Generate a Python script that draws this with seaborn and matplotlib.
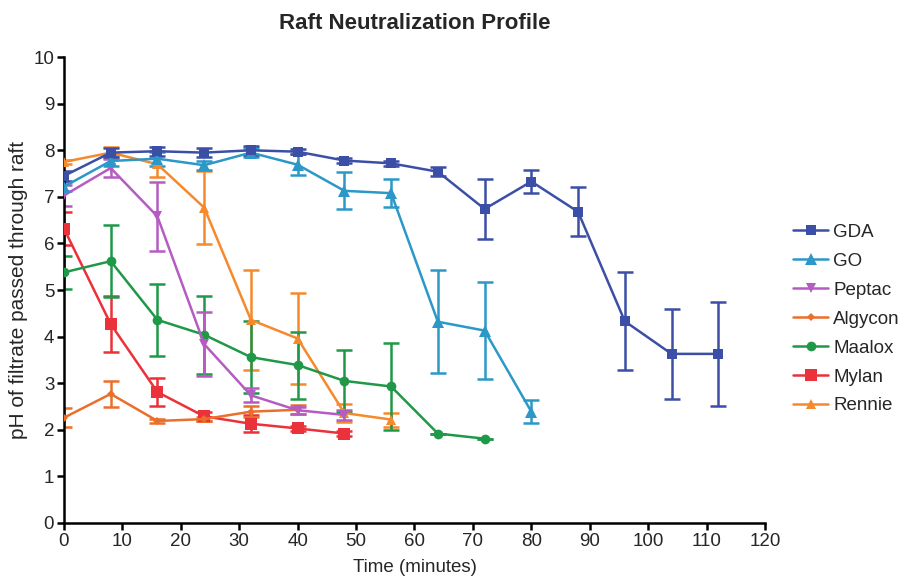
import numpy as np
import pandas as pd
import matplotlib
matplotlib.use("Agg")
import matplotlib.pyplot as plt
from matplotlib.lines import Line2D
import seaborn as sns

# time points (minutes)
t_gda = [0, 8, 16, 24, 32, 40, 48, 56, 64, 72, 80, 88, 96, 104, 112]
gda = [7.45, 7.95, 7.98, 7.95, 8.0, 7.97, 7.78, 7.72, 7.54, 6.74, 7.33, 6.68, 4.33, 3.63, 3.63]
gda_err = [0.1, 0.1, 0.1, 0.1, 0.1, 0.06, 0.05, 0.05, 0.1, 0.65, 0.25, 0.53, 1.05, 0.97, 1.12]

t_go = [0, 8, 16, 24, 32, 40, 48, 56, 64, 72, 80]
go = [7.22, 7.77, 7.82, 7.68, 7.95, 7.69, 7.13, 7.08, 4.32, 4.13, 2.39]
go_err = [0.1, 0.1, 0.15, 0.1, 0.1, 0.22, 0.4, 0.3, 1.1, 1.04, 0.24]

t_peptac = [0, 8, 16, 24, 32, 40, 48]
peptac = [7.03, 7.62, 6.58, 3.84, 2.74, 2.42, 2.32]
peptac_err = [0.22, 0.2, 0.75, 0.68, 0.15, 0.08, 0.1]

t_algycon = [0, 8, 16, 24, 32, 40]
algycon = [2.26, 2.77, 2.19, 2.23, 2.39, 2.43]
algycon_err = [0.2, 0.27, 0.04, 0.04, 0.12, 0.1]

t_maalox = [0, 8, 16, 24, 32, 40, 48, 56, 64, 72]
maalox = [5.38, 5.62, 4.36, 4.04, 3.56, 3.39, 3.05, 2.93, 1.92, 1.81]
maalox_err = [0.36, 0.77, 0.78, 0.84, 0.77, 0.72, 0.66, 0.93, 0.0, 0.0]

t_mylan = [0, 8, 16, 24, 32, 40, 48]
mylan = [6.32, 4.27, 2.81, 2.29, 2.13, 2.03, 1.92]
mylan_err = [0.36, 0.6, 0.3, 0.1, 0.18, 0.05, 0.06]

t_rennie = [0, 8, 16, 24, 32, 40, 48, 56]
rennie = [7.75, 7.95, 7.7, 6.77, 4.36, 3.96, 2.36, 2.22]
rennie_err = [0.05, 0.12, 0.28, 0.78, 1.07, 0.98, 0.2, 0.15]

names = ["GDA", "GO", "Peptac", "Algycon", "Maalox", "Mylan", "Rennie"]
times = [t_gda, t_go, t_peptac, t_algycon, t_maalox, t_mylan, t_rennie]
means = [gda, go, peptac, algycon, maalox, mylan, rennie]
errs = [gda_err, go_err, peptac_err, algycon_err, maalox_err, mylan_err, rennie_err]

colors = {"GDA": "#3b4fa6", "GO": "#2b98c8", "Peptac": "#b45cc2", "Algycon": "#ea6f2a",
          "Maalox": "#1f9848", "Mylan": "#eb3139", "Rennie": "#f5892c"}
markers = {"GDA": "s", "GO": "^", "Peptac": "v", "Algycon": "D", "Maalox": "o",
           "Mylan": "s", "Rennie": "^"}
msizes = {"GDA": 7, "GO": 8, "Peptac": 7, "Algycon": 4, "Maalox": 7, "Mylan": 9, "Rennie": 7}

rows = []
for n, t, m, e in zip(names, times, means, errs):
    for ti, mi, ei in zip(t, m, e):
        rows.append({"drug": n, "time": ti, "ph": mi, "err": ei})
df = pd.DataFrame(rows)

sns.set_style("ticks")
plt.rcParams["font.family"] = ["Liberation Sans", "DejaVu Sans"]

fig = plt.figure(figsize=(9.06, 5.77), dpi=100)
ax = fig.add_axes([0.0706, 0.0936, 0.7738, 0.8074])

# draw in reverse so GDA sits on top
for n in names[::-1]:
    sub = df[df["drug"] == n]
    ax.errorbar(sub["time"], sub["ph"], yerr=sub["err"], fmt="none",
                ecolor=colors[n], elinewidth=1.8, capsize=6, capthick=1.8, zorder=2)
    sns.lineplot(data=sub, x="time", y="ph", ax=ax, color=colors[n], marker=markers[n],
                 markersize=msizes[n], markeredgewidth=0, linewidth=1.8, zorder=3,
                 legend=False, errorbar=None)

ax.set_xlim(0, 120)
ax.set_ylim(0, 10)
ax.set_xticks(range(0, 121, 10))
ax.set_yticks(range(0, 11))
ax.set_xlabel("Time (minutes)", fontsize=13.5, labelpad=7)
ax.set_ylabel("pH of filtrate passed through raft", fontsize=15, labelpad=4)
ax.set_title("Raft Neutralization Profile", fontsize=16, fontweight="bold", pad=20)
ax.tick_params(labelsize=13.5, width=1.8, length=5, color="black", pad=2)
for s in ["left", "bottom"]:
    ax.spines[s].set_linewidth(1.8)
    ax.spines[s].set_color("black")
sns.despine(ax=ax)

handles = [Line2D([0], [0], color=colors[n], marker=markers[n], markersize=msizes[n],
                  markeredgewidth=0, linewidth=1.8) for n in names]
fig.legend(handles, names, loc="center left", bbox_to_anchor=(0.875, 0.447),
           frameon=False, fontsize=13.5, handlelength=1.9, handletextpad=0.25,
           labelspacing=0.63, borderpad=0, borderaxespad=0)

fig.savefig("out.png", dpi=100)
